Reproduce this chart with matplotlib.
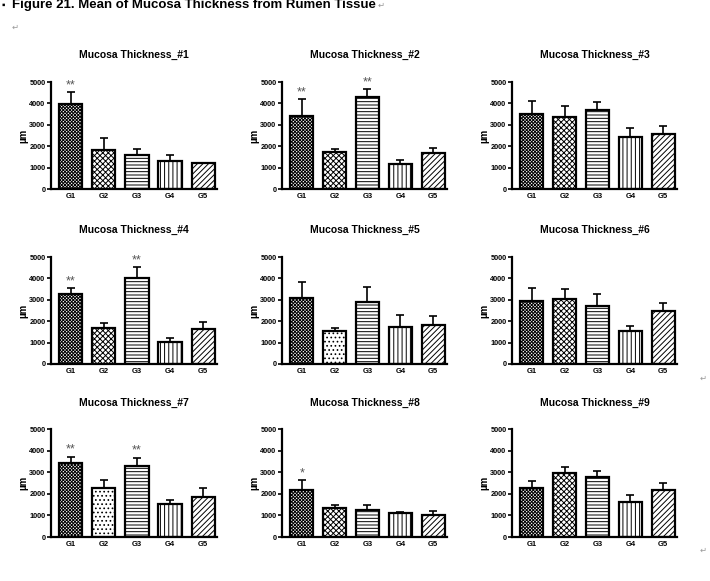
import matplotlib.pyplot as plt
import numpy as np

plt.rcParams['font.family'] = ['Liberation Sans', 'DejaVu Sans']
plt.rcParams['hatch.linewidth'] = 0.7

groups = ['G1', 'G2', 'G3', 'G4', 'G5']

mean_1 = [3950, 1800, 1570, 1330, 1230]
err_1 = [580, 580, 300, 270, 0]
mean_2 = [3430, 1750, 4320, 1180, 1700]
err_2 = [770, 100, 330, 170, 220]
mean_3 = [3520, 3370, 3700, 2450, 2580]
err_3 = [580, 500, 360, 390, 350]
mean_4 = [3250, 1700, 4030, 1050, 1650]
err_4 = [300, 200, 500, 170, 320]
mean_5 = [3100, 1520, 2920, 1750, 1800]
err_5 = [720, 160, 680, 550, 450]
mean_6 = [2950, 3050, 2720, 1520, 2500]
err_6 = [600, 450, 550, 260, 350]
mean_7 = [3430, 2270, 3300, 1520, 1850]
err_7 = [290, 350, 380, 200, 400]
mean_8 = [2180, 1330, 1230, 1120, 1030]
err_8 = [440, 170, 270, 60, 190]
mean_9 = [2270, 2950, 2770, 1620, 2180]
err_9 = [330, 300, 300, 340, 340]

stars_1 = ['**', '', '', '', '']
stars_2 = ['**', '', '**', '', '']
stars_4 = ['**', '', '**', '', '']
stars_7 = ['**', '', '**', '', '']
stars_8 = ['*', '', '', '', '']
no_stars = ['', '', '', '', '']

panels = [
    (mean_1, err_1, stars_1), (mean_2, err_2, stars_2), (mean_3, err_3, no_stars),
    (mean_4, err_4, stars_4), (mean_5, err_5, no_stars), (mean_6, err_6, no_stars),
    (mean_7, err_7, stars_7), (mean_8, err_8, stars_8), (mean_9, err_9, no_stars),
]

hatches = ['x' * 10, 'x' * 6, '-----', '||||', '//////']
# panels 5 and 7 show a dotted G2
dotted_g2 = [5, 7]

W, H = 710, 581
fig = plt.figure(figsize=(W / 100, H / 100), dpi=100)

cols = [(51, 217), (282, 447), (512, 677)]
rows = [(82, 189), (257, 364), (429, 537)]
title_y = [55, 230, 403]

x = np.arange(len(groups))
for i, (means, errs, stars) in enumerate(panels):
    r, c = divmod(i, 3)
    x0, x1 = cols[c]
    yt, yb = rows[r]
    ax = fig.add_axes([x0 / W, 1 - yb / H, (x1 - x0) / W, (yb - yt) / H])
    lower = np.zeros(len(means))
    ax.errorbar(x, means, yerr=[lower, errs], fmt='none', ecolor='black',
                elinewidth=1.2, capsize=3, capthick=1.2, zorder=1)
    h = list(hatches)
    if i + 1 in dotted_g2:
        h[1] = '....'
    ax.bar(x, means, width=0.7, color='white', edgecolor='black',
           linewidth=1.6, hatch=h, zorder=2)
    for xi, m, e, s in zip(x, means, errs, stars):
        if s:
            ax.text(xi, m + e + 330, s, ha='center', va='center',
                    fontsize=9, color='#555555')
    ax.set_xlim(-0.6, 4.42)
    ax.set_ylim(0, 5000)
    ax.set_yticks([0, 1000, 2000, 3000, 4000, 5000])
    ax.set_xticks(x)
    ax.set_xticklabels(groups, fontsize=5.5, fontweight='bold')
    for lab in ax.get_yticklabels():
        lab.set_fontsize(5.3)
        lab.set_fontweight('bold')
    ax.tick_params(axis='y', length=3, width=1.2, pad=1)
    ax.tick_params(axis='x', length=0, pad=3)
    ax.spines['top'].set_visible(False)
    ax.spines['right'].set_visible(False)
    ax.spines['left'].set_linewidth(1.6)
    ax.spines['bottom'].set_linewidth(1.6)
    ax.set_ylabel('µm', fontsize=7, fontweight='bold', labelpad=1)
    fig.text((x0 + x1) / 2 / W, 1 - title_y[r] / H,
             'Mucosa Thickness_#%d' % (i + 1), ha='center', va='center',
             fontsize=7.5, fontweight='bold')

fig.text(2 / W, 1 - 5 / H, '\u25aa', fontsize=7, va='center', ha='left')
fig.text(12 / W, 1 - 5 / H, 'Figure 21. Mean of Mucosa Thickness from Rumen Tissue',
         fontsize=9.5, fontweight='bold', va='center', ha='left')
for px, py in [(381, 5), (15, 27), (703, 378), (703, 550)]:
    fig.text(px / W, 1 - py / H, '\u21b5', fontsize=6, color='#999999',
             ha='center', va='center', family='DejaVu Sans')

fig.savefig('out.png', dpi=100)
